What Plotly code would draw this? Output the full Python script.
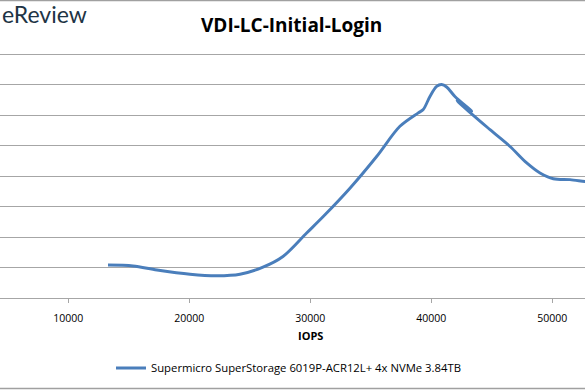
import plotly.graph_objects as go

# Data (y units unlabeled in the cropped chart)
iops = [13281, 15348, 17331, 20058, 22289, 24190, 26091, 27744, 29702, 31074,
        33281, 35488, 37413, 38926, 39339, 39893, 40446, 40860, 41273, 41959,
        43346, 42131, 44860, 46513, 47893, 48992, 50091, 51471, 52711, 53600]
latency = [1.08, 1.05, 0.92, 0.78, 0.73, 0.78, 1.01, 1.36, 2.13, 2.67,
           3.60, 4.64, 5.63, 6.07, 6.18, 6.61, 6.94, 7.00, 6.92, 6.61,
           6.13, 6.47, 5.52, 4.97, 4.43, 4.10, 3.91, 3.88, 3.82, 3.79]
series_name = "Supermicro SuperStorage 6019P-ACR12L+ 4x NVMe 3.84TB"
chart_title = "VDI-LC-Initial-Login"
x_title = "IOPS"
x_ticks = [10000, 20000, 30000, 40000, 50000]

W, H = 585, 390
T, B = 51, 92
plot_h = H - T - B


def py(p):
    """pixel y (from top) -> paper y"""
    return (H - B - p) / plot_h


fig = go.Figure()
fig.add_trace(go.Scatter(
    x=iops, y=latency, mode="lines", name=series_name,
    line=dict(color="#4a7ebb", width=2.9, shape="spline", smoothing=0.9),
))

fig.update_layout(
    width=W, height=H,
    margin=dict(l=0, r=0, t=T, b=B, pad=0, autoexpand=False),
    paper_bgcolor="white", plot_bgcolor="white",
    font=dict(family="Open Sans", color="#000000"),
    showlegend=True,
    legend=dict(orientation="h", x=111 / W, xanchor="left", y=py(368), yanchor="middle",
                font=dict(size=11.3, family="Open Sans", color="#000"),
                itemwidth=30, bgcolor="rgba(0,0,0,0)"),
    xaxis=dict(range=[4354, 52711], tickvals=x_ticks, ticktext=[str(v) for v in x_ticks],
               showgrid=False, zeroline=False, showline=True, linecolor="#a6a6a6", linewidth=1,
               ticks="outside", ticklen=4, tickcolor="#a6a6a6", ticklabelstandoff=6,
               tickfont=dict(size=10.5, family="Open Sans", color="#000")),
    yaxis=dict(range=[0, 8.1], tickvals=[1, 2, 3, 4, 5, 6, 7, 8], showgrid=True,
               gridcolor="#a6a6a6", gridwidth=1,
               zeroline=False, showticklabels=False, showline=False),
    annotations=[
        dict(text="<b>" + chart_title + "</b>", x=291 / W, y=py(25), xref="paper", yref="paper",
             yanchor="middle", showarrow=False,
             font=dict(size=19, family="Open Sans", color="#000")),
        dict(text="<b>" + x_title + "</b>", x=310 / W, y=py(335), xref="paper", yref="paper",
             yanchor="middle", showarrow=False,
             font=dict(size=11, family="Open Sans", color="#000")),
        dict(text="eReview", x=0, y=py(14), xref="paper", yref="paper", xanchor="left",
             yanchor="middle", showarrow=False,
             font=dict(size=23, family="Lato", color="#1e3445")),
    ],
    shapes=[
        dict(type="line", xref="paper", yref="paper", x0=0, x1=1, y0=py(0.5), y1=py(0.5),
             line=dict(color="#a0a0a0", width=1.5)),
        dict(type="line", xref="paper", yref="paper", x0=0, x1=1, y0=py(388.5), y1=py(388.5),
             line=dict(color="#a0a0a0", width=1.5)),
    ],
)

fig.write_html("out.html", config={"displayModeBar": False},
               post_script="document.body.style.margin='0';document.body.style.overflow='hidden';")
